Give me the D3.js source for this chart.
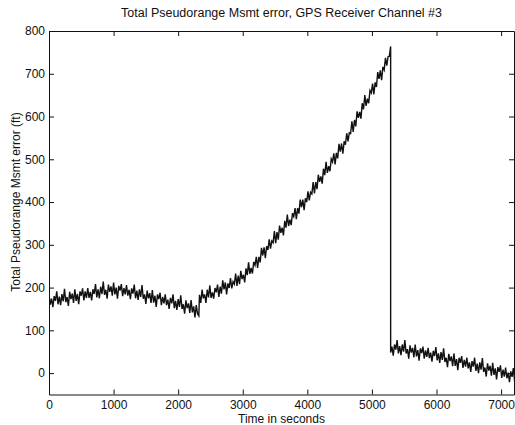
<!DOCTYPE html>
<html>
<head>
<meta charset="utf-8">
<script src="https://cdn.jsdelivr.net/npm/d3@7"></script>
<style>
  body { margin: 0; background: #fff; }
  text { font-family: "Liberation Sans", Arial, sans-serif; fill: #111; }
</style>
</head>
<body>
<div id="chart"></div>
<script>
const segA = { start: 0, step: 20, values: [
  184,160,174,154,180,169,191,161,179,159,185,168,197,166,178,157,190,173,186,164,
  196,169,185,161,191,181,198,170,191,176,199,176,190,170,196,185,208,177,196,175,
  202,185,214,183,195,174,207,190,203,181,212,184,200,174,204,193,208,180,199,184,
  206,181,195,173,198,186,207,175,193,171,196,178,206,174,184,162,193,175,187,164,
  194,165,181,155,184,173,188,159,178,163,184,159,172,150,176,163,184,152,169,148,
  173,155,182,150,161,139,170,152,163,141,171,142,156,130,159,139,134 ] };
const segB = { start: 2330, step: 20, values: [
  183,164,195,175,184,164,195,177,205,176,189,174,199,189,207,178,202,186,217,196,
  212,184,210,199,222,198,214,208,233,204,228,208,239,220,230,212,245,229,259,232,
  246,233,260,252,272,246,272,259,293,275,294,269,297,288,313,291,309,305,332,304,
  330,312,345,328,340,322,356,340,371,344,359,346,374,366,386,360,386,373,406,388,
  406,381,409,400,425,404,423,419,447,420,447,430,464,447,460,443,478,463,494,468,
  484,472,501,494,514,488,515,502,536,518,537,513,542,534,561,542,562,560,589,564,
  592,577,612,597,611,595,631,617,650,625,642,631,661,655,677,652,680,669,704,688,
  708,685,716,709,737,719,740,741,764 ] };
const segC = { start: 5290, step: 20, values: [
  48,62,41,67,55,77,46,63,42,67,50,77,46,56,34,65,48,59,37,67,
  39,54,29,58,47,62,34,53,38,59,35,48,27,52,40,61,30,46,24,49,
  31,58,26,36,14,45,28,39,16,46,17,33,7,36,24,40,12,31,15,36,
  11,25,3,28,15,36,5,22,0,25,8,35,3,13,-8,23,6,17,-6,24,
  -4,11,-15,14,3,18,-11,8,-8,13,-12,1,-21,4,-9,12,-20 ] };

const xTicks = [0, 1000, 2000, 3000, 4000, 5000, 6000, 7000];
const yTicks = [0, 100, 200, 300, 400, 500, 600, 700, 800];

const points = [segA, segB, segC].flatMap(s =>
  s.values.map((v, i) => [s.start + i * s.step, v]));

const width = 515, height = 425;
const margin = { left: 49, right: 1, top: 31, bottom: 30.5 };

const svg = d3.select("#chart").append("svg")
  .attr("width", width).attr("height", height);

const x = d3.scaleLinear().domain([0, 7200]).range([margin.left, width - margin.right]);
const y = d3.scaleLinear().domain([-50, 800]).range([height - margin.bottom, margin.top]);

svg.append("clipPath").attr("id", "clip")
  .append("rect")
  .attr("x", x(0)).attr("y", y(800))
  .attr("width", x(7200) - x(0)).attr("height", y(-50) - y(800));

svg.append("path")
  .datum(points)
  .attr("clip-path", "url(#clip)")
  .attr("fill", "none")
  .attr("stroke", "#111")
  .attr("stroke-width", 1.4)
  .attr("d", d3.line().x(d => x(d[0])).y(d => y(d[1])));

// axes, ticks pointing inward on all four sides
const tl = 5;
const fmt = d3.format("d");
svg.append("g").attr("transform", `translate(0,${y(-50)})`)
  .call(d3.axisBottom(x).tickValues(xTicks).tickFormat(fmt).tickSizeInner(-tl).tickSizeOuter(0).tickPadding(6));
svg.append("g").attr("transform", `translate(0,${y(800)})`)
  .call(d3.axisTop(x).tickValues(xTicks).tickSizeInner(-tl).tickSizeOuter(0).tickFormat(""));
svg.append("g").attr("transform", `translate(${x(0)},0)`)
  .call(d3.axisLeft(y).tickValues(yTicks).tickFormat(fmt).tickSizeInner(-tl).tickSizeOuter(0).tickPadding(4));
svg.append("g").attr("transform", `translate(${x(7200)},0)`)
  .call(d3.axisRight(y).tickValues(yTicks).tickSizeInner(-tl).tickSizeOuter(0).tickFormat(""));

svg.selectAll(".domain").attr("stroke", "#111");
svg.selectAll(".tick line").attr("stroke", "#111");
svg.selectAll(".tick text").attr("font-size", 12)
  .attr("font-family", "Liberation Sans, Arial, sans-serif").attr("fill", "#111");

const cx = (x(0) + x(7200)) / 2;
svg.append("text")
  .attr("x", cx).attr("y", 17)
  .attr("text-anchor", "middle").attr("font-size", 12.5)
  .text("Total Pseudorange Msmt error, GPS Receiver Channel #3");

svg.append("text")
  .attr("x", cx).attr("y", 423)
  .attr("text-anchor", "middle").attr("font-size", 12)
  .text("Time in seconds");

svg.append("text")
  .attr("transform", `translate(20,202) rotate(-90)`)
  .attr("text-anchor", "middle").attr("font-size", 12)
  .text("Total Pseudorange Msmt error (ft)");
</script>
</body>
</html>
